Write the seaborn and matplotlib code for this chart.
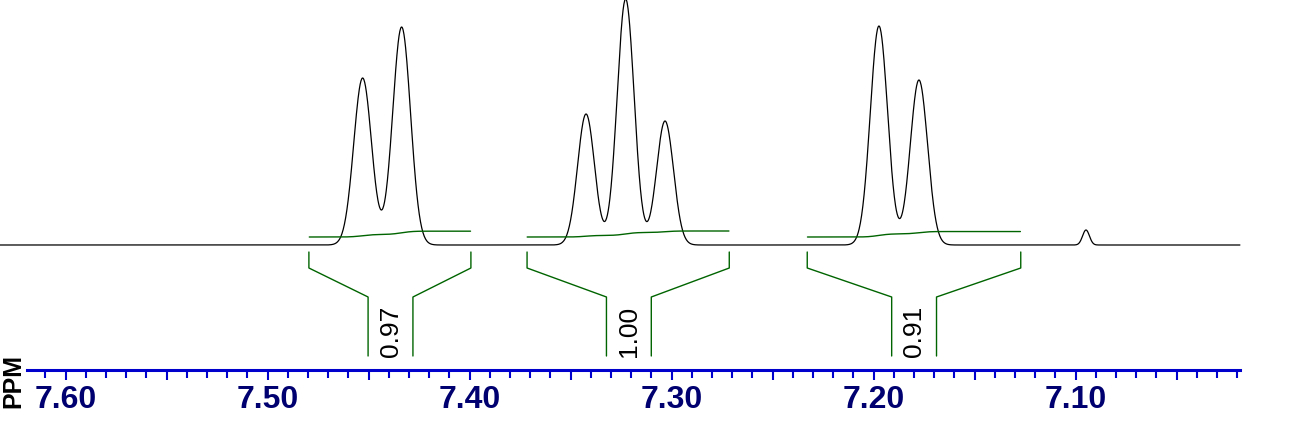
import numpy as np
import pandas as pd
import matplotlib
matplotlib.use("Agg")
import matplotlib.pyplot as plt
import seaborn as sns

# peak list: shift (ppm), height (px above baseline), FWHM (ppm)
peak_shift = [7.4530, 7.4337, 7.3424, 7.3228, 7.3033, 7.1974, 7.1776, 7.0949]
peak_height = [167, 218, 131, 246, 124, 219, 165, 15]
peak_width = [0.0104, 0.0104, 0.0099, 0.0099, 0.0099, 0.0101, 0.0101, 0.0040]

# integration regions (ppm) and their values
int_start = [7.4796, 7.3716, 7.2329]
int_end = [7.3994, 7.2715, 7.1272]
int_center = [7.4392, 7.3212, 7.1800]
int_value = ["0.97", "1.00", "0.91"]

# axis ticks
major_ticks = [7.60, 7.55, 7.50, 7.45, 7.40, 7.35, 7.30, 7.25, 7.20, 7.15, 7.10, 7.05]
major_labels = ["7.60", "", "7.50", "", "7.40", "", "7.30", "", "7.20", "", "7.10", ""]
minor_ticks = [round(7.61 - 0.01 * i, 2) for i in range(60)]


def line_shape(ppm, center, height, fwhm):
    # gaussian line
    d = (ppm - center) / fwhm
    return height * np.exp(-4 * np.log(2) * d ** 2)


ppm = np.linspace(7.6325, 7.0187, 3000)
intensity = np.zeros_like(ppm)
for c, h, w in zip(peak_shift, peak_height, peak_width):
    intensity += line_shape(ppm, c, h, w)
spectrum = pd.DataFrame({"ppm": ppm, "intensity": intensity})

sns.set_style("white")
plt.rcParams["font.family"] = ["Liberation Sans", "DejaVu Sans"]

fig = plt.figure(figsize=(12.92, 4.27), dpi=100)
ax = fig.add_axes([0, 0, 1, 1])

sns.lineplot(data=spectrum, x="ppm", y="intensity", ax=ax, color="black",
             lw=0.9, sort=False, estimator=None)

green = "#006400"
half_gap = 0.0111
for s, e, c, v in zip(int_start, int_end, int_center, int_value):
    # integral trace
    m = (ppm <= s) & (ppm >= e)
    cum = np.cumsum(intensity[m])
    trace = 8 + 6 * float(v) * cum / cum[-1]
    ax.plot(ppm[m], trace, color=green, lw=1.0)
    # bracket
    ax.plot([s, s, c + half_gap, c + half_gap], [-7, -23, -52, -111], color=green, lw=1.0)
    ax.plot([e, e, c - half_gap, c - half_gap], [-7, -23, -52, -111], color=green, lw=1.0)
    ax.text(c, -111.5, v, rotation=90, ha="center", va="bottom", fontsize=19,
            family=["Liberation Sans Narrow", "Liberation Sans", "DejaVu Sans"], color="black")

ax.set_xlim(7.63252, 6.99292)
ax.set_ylim(-181, 246)
ax.set_ylabel("")
ax.set_xlabel("")
ax.set_yticks([])

for side in ["top", "left", "right"]:
    ax.spines[side].set_visible(False)
ax.spines["bottom"].set_position(("data", -124.7))
ax.spines["bottom"].set_color("#0000cc")
ax.spines["bottom"].set_linewidth(2.2)
ax.spines["bottom"].set_bounds(7.619, 7.0187)

ax.set_xticks(major_ticks, labels=major_labels, fontsize=23, fontweight="bold", color="#000070")
ax.set_xticks(minor_ticks, minor=True)
ax.tick_params(axis="x", which="both", bottom=True, top=False)
ax.tick_params(axis="x", which="major", direction="out", length=7.2, width=1.5,
               color="#0000cc", pad=3)
ax.tick_params(axis="x", which="minor", direction="out", length=5.8, width=1.5,
               color="#0000cc")

fig.text(13 / 1292, 1 - 381 / 427, "PPM", rotation=90, ha="center", va="center",
         fontsize=18, fontweight="bold", color="black",
         family=["Liberation Sans Narrow", "Liberation Sans", "DejaVu Sans"])

fig.savefig("out.png", dpi=100)
